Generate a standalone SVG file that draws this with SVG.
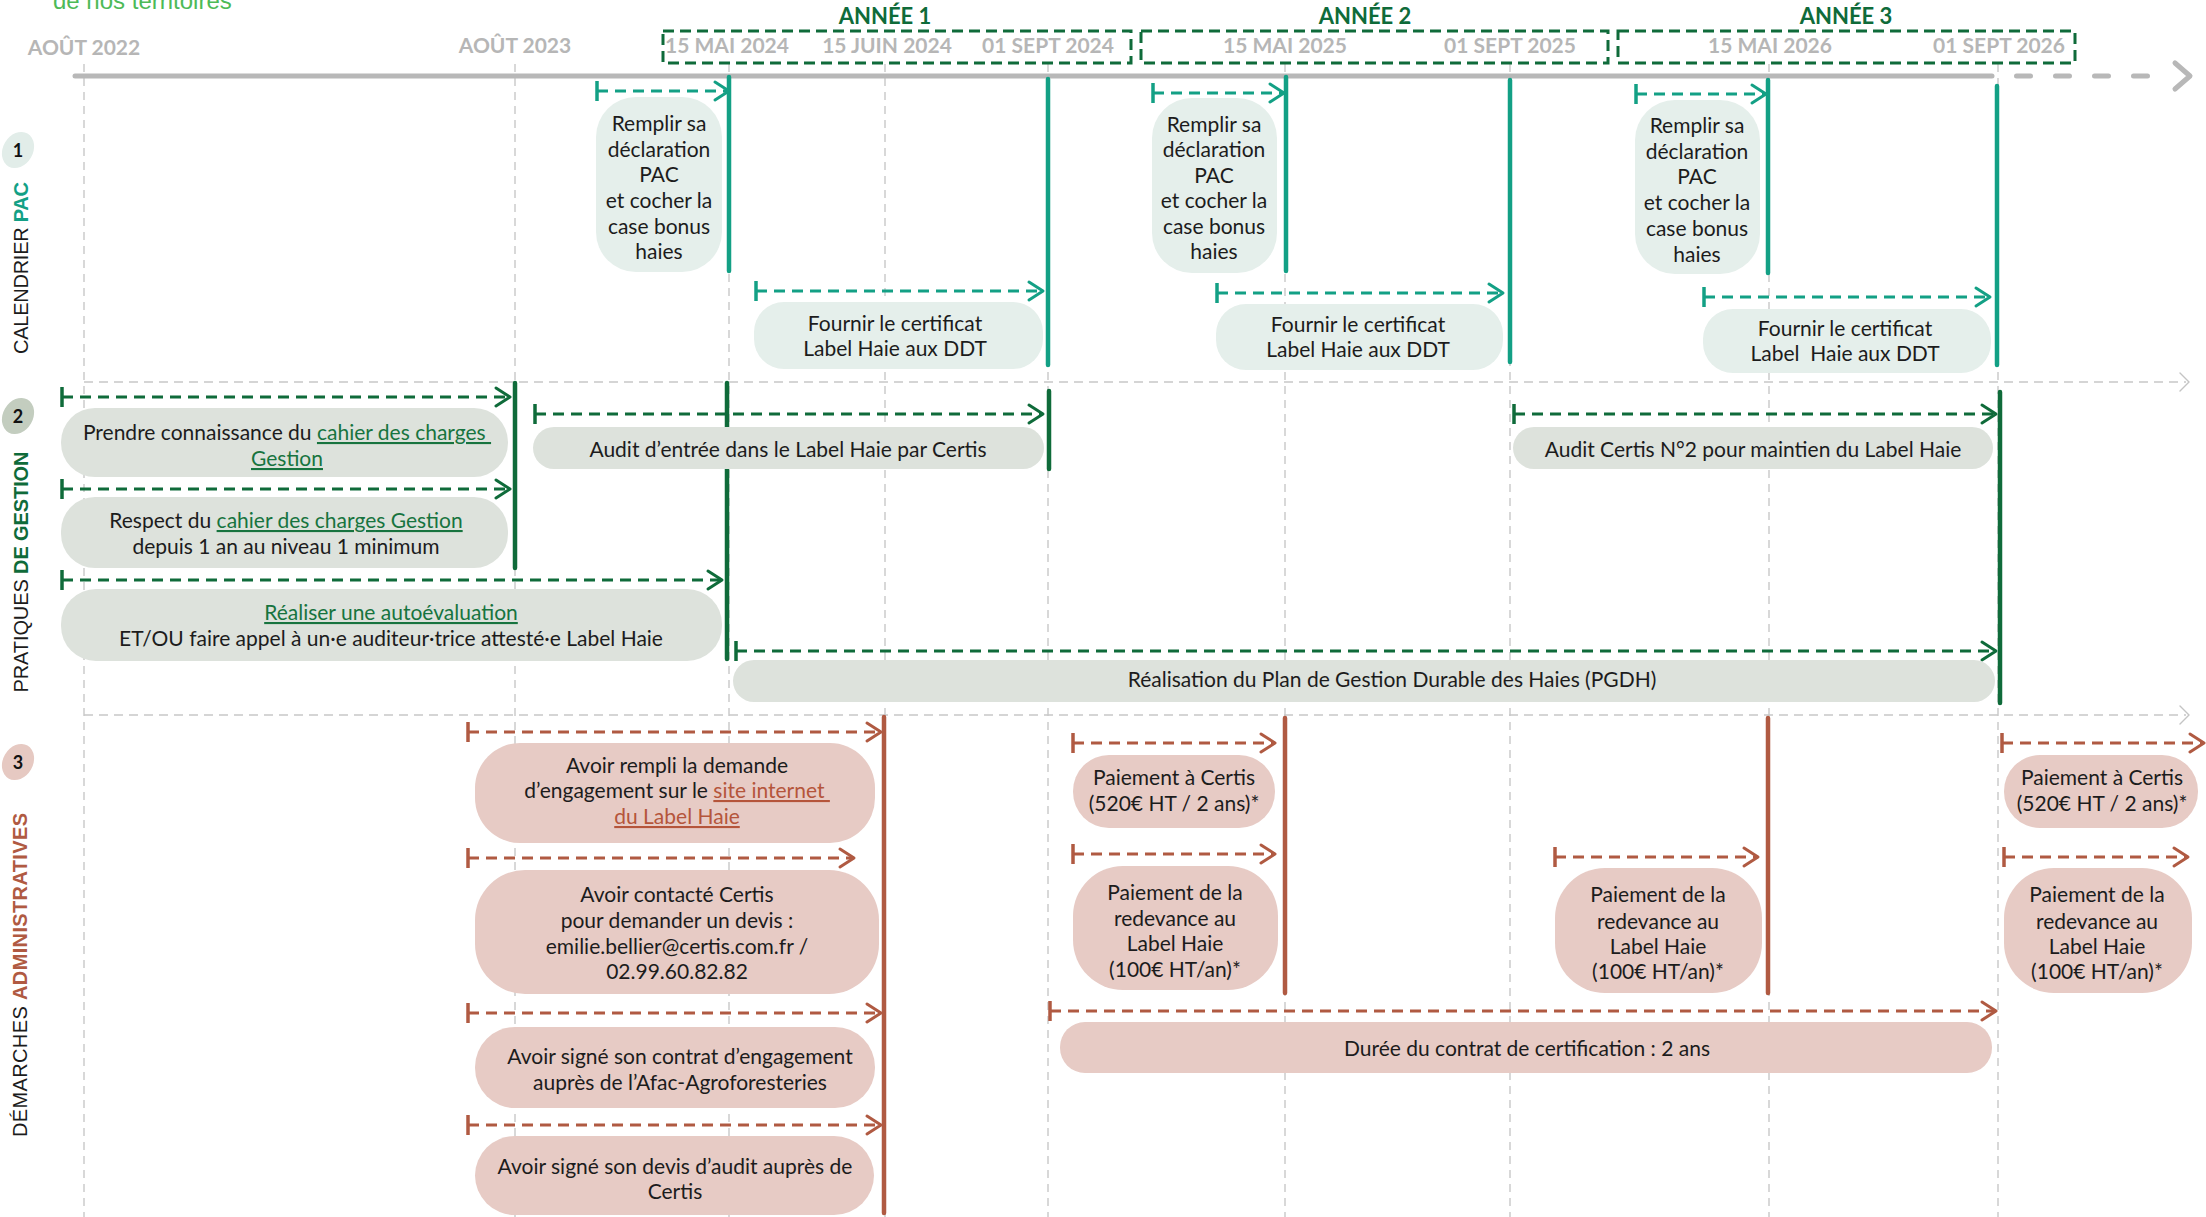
<svg xmlns="http://www.w3.org/2000/svg" width="2206" height="1217" viewBox="0 0 2206 1217">
<style>
.bg{fill:#ffffff}
.grid{fill:none;stroke:#c8c8c8;stroke-width:1.4;stroke-dasharray:8 6}
.div{fill:none;stroke:#c8c8c8;stroke-width:1.4;stroke-dasharray:9 6}
.divh{fill:none;stroke:#c4c4c4;stroke-width:1.4;stroke-linecap:round;stroke-linejoin:round}
.tl{fill:none;stroke:#b8b8b8;stroke-width:5;stroke-linecap:round;stroke-linejoin:round}
.ybox{fill:none;stroke:#0f6b3a;stroke-width:3;stroke-dasharray:11 6}
.date{font-family:Lato,"Liberation Sans",sans-serif;font-weight:700;font-size:21px;fill:#b6b6b6;text-anchor:middle}
.year{font-family:Lato,"Liberation Sans",sans-serif;font-weight:700;font-size:22px;fill:#0f6b3a;text-anchor:middle}
.c{fill:none;stroke-width:3;stroke-dasharray:11 7}
.ct{stroke:#13a085}
.cg{stroke:#0f6b3a}
.cr{stroke:#b05a42}
.ms{fill:none;stroke-width:4.5;stroke-linecap:round}
.n1{fill:#e5efeb}
.n2{fill:#dde2dc}
.n3{fill:#e7cbc5}
.t{font-family:Lato,"Liberation Sans",sans-serif;font-size:21px;fill:#1c1c1c;text-anchor:middle}
.lk2{fill:#17743f;text-decoration:underline}
.lk3{fill:#b5553b;text-decoration:underline}
.vl{font-family:"Liberation Sans",Arial,sans-serif;font-size:20px;fill:#1c1c1c;text-anchor:middle}
.b{font-weight:700}
.badge{font-family:Lato,"Liberation Sans",sans-serif;font-weight:700;font-size:18px;fill:#111;text-anchor:middle}
</style>
<defs>
<marker id="st-t" markerUnits="userSpaceOnUse" orient="auto" overflow="visible" markerWidth="2" markerHeight="2" refX="0" refY="0"><path d="M0,-10V10" stroke="#13a085" stroke-width="3.5" fill="none"/></marker>
<marker id="en-t" markerUnits="userSpaceOnUse" orient="auto" overflow="visible" markerWidth="2" markerHeight="2" refX="0" refY="0"><path d="M-14,-9L0,0L-14,9" stroke="#13a085" stroke-width="3" fill="none" stroke-linecap="round" stroke-linejoin="round"/></marker>
<marker id="st-g" markerUnits="userSpaceOnUse" orient="auto" overflow="visible" markerWidth="2" markerHeight="2" refX="0" refY="0"><path d="M0,-10V10" stroke="#0f6b3a" stroke-width="3.5" fill="none"/></marker>
<marker id="en-g" markerUnits="userSpaceOnUse" orient="auto" overflow="visible" markerWidth="2" markerHeight="2" refX="0" refY="0"><path d="M-14,-9L0,0L-14,9" stroke="#0f6b3a" stroke-width="3" fill="none" stroke-linecap="round" stroke-linejoin="round"/></marker>
<marker id="st-r" markerUnits="userSpaceOnUse" orient="auto" overflow="visible" markerWidth="2" markerHeight="2" refX="0" refY="0"><path d="M0,-10V10" stroke="#b05a42" stroke-width="3.5" fill="none"/></marker>
<marker id="en-r" markerUnits="userSpaceOnUse" orient="auto" overflow="visible" markerWidth="2" markerHeight="2" refX="0" refY="0"><path d="M-14,-9L0,0L-14,9" stroke="#b05a42" stroke-width="3" fill="none" stroke-linecap="round" stroke-linejoin="round"/></marker>
</defs>
<rect class="bg" x="0" y="0" width="2206" height="1217"/>

<text x="53" y="9" font-family="Liberation Sans, Arial, sans-serif" font-size="24" fill="#4dba57">de nos territoires</text>

<g id="grid">
<path class="grid" d="M84,64V1217M515,64V1217M729,64V1217M885,64V1217M1048,64V1217M1285,64V1217M1510,64V1217M1769,64V1217M1998,64V1217"/>
<path class="div" d="M84,382H2186M84,715H2186"/>
<path class="divh" d="M2180,373L2189,382L2180,391M2180,706L2189,715L2180,724"/>
</g>

<g id="timeline">
<path class="tl" d="M75,76H1992"/>
<path class="tl" d="M2016.5,76H2150" stroke-dasharray="14 25"/>
<path class="tl" d="M2175,63L2190,76L2175,89"/>
<text class="date" x="84" y="55">AOÛT 2022</text>
<text class="date" x="515" y="53">AOÛT 2023</text>
</g>

<g id="years">
<rect class="ybox" x="663" y="31" width="468" height="32"/>
<rect class="ybox" x="1141" y="31" width="467" height="32"/>
<rect class="ybox" x="1618" y="31" width="457" height="32"/>
<text class="year" x="885" y="24">ANNÉE 1</text>
<text class="year" x="1365" y="24">ANNÉE 2</text>
<text class="year" x="1846" y="24">ANNÉE 3</text>
<text class="date" x="727" y="53">15 MAI 2024</text>
<text class="date" x="887" y="53">15 JUIN 2024</text>
<text class="date" x="1048" y="53">01 SEPT 2024</text>
<text class="date" x="1285" y="53">15 MAI 2025</text>
<text class="date" x="1510" y="53">01 SEPT 2025</text>
<text class="date" x="1770" y="53">15 MAI 2026</text>
<text class="date" x="1999" y="53">01 SEPT 2026</text>
</g>

<g id="sections">
<ellipse cx="18" cy="150" rx="15" ry="19" fill="#e2ede9" transform="rotate(30 18 150)"/>
<text class="badge" x="18" y="157">1</text>
<ellipse cx="18" cy="416" rx="15" ry="19" fill="#c3cdbf" transform="rotate(30 18 416)"/>
<text class="badge" x="18" y="423">2</text>
<ellipse cx="18" cy="762" rx="15" ry="19" fill="#e6c9c2" transform="rotate(30 18 762)"/>
<text class="badge" x="18" y="769">3</text>
<text class="vl" transform="translate(28,268) rotate(-90)" textLength="172">CALENDRIER <tspan class="b" fill="#13a085">PAC</tspan></text>
<text class="vl" transform="translate(28,572) rotate(-90)" textLength="241">PRATIQUES <tspan class="b" fill="#0f6b3a">DE GESTION</tspan></text>
<text class="vl" transform="translate(27,975) rotate(-90)" textLength="324">DÉMARCHES <tspan class="b" fill="#b05a42">ADMINISTRATIVES</tspan></text>
</g>

<g id="connectors">
<path class="ms" stroke="#13a085" d="M729,77V271M1048,79V365M1286,77V271M1510,80V362M1768,80V273M1997,86V365"/>
<path class="ms" stroke="#0f6b3a" d="M515,383V568M727,383V659M1049,391V469M2000,392V703"/>
<path class="ms" stroke="#b05a42" d="M884,717V1213M1285,718V993M1768,718V993"/>
<path class="c ct" marker-start="url(#st-t)" marker-end="url(#en-t)" d="M597,91H729"/>
<path class="c ct" marker-start="url(#st-t)" marker-end="url(#en-t)" d="M756,291H1043"/>
<path class="c ct" marker-start="url(#st-t)" marker-end="url(#en-t)" d="M1153,93H1284"/>
<path class="c ct" marker-start="url(#st-t)" marker-end="url(#en-t)" d="M1217,293H1503"/>
<path class="c ct" marker-start="url(#st-t)" marker-end="url(#en-t)" d="M1636,94H1766"/>
<path class="c ct" marker-start="url(#st-t)" marker-end="url(#en-t)" d="M1704,297H1990"/>
<path class="c cg" marker-start="url(#st-g)" marker-end="url(#en-g)" d="M62,397H510"/>
<path class="c cg" marker-start="url(#st-g)" marker-end="url(#en-g)" d="M62,489H510"/>
<path class="c cg" marker-start="url(#st-g)" marker-end="url(#en-g)" d="M62,580H722"/>
<path class="c cg" marker-start="url(#st-g)" marker-end="url(#en-g)" d="M535,414H1043"/>
<path class="c cg" marker-start="url(#st-g)" marker-end="url(#en-g)" d="M736,651H1996"/>
<path class="c cg" marker-start="url(#st-g)" marker-end="url(#en-g)" d="M1514,414H1996"/>
<path class="c cr" marker-start="url(#st-r)" marker-end="url(#en-r)" d="M468,732H881"/>
<path class="c cr" marker-start="url(#st-r)" marker-end="url(#en-r)" d="M468,858H854"/>
<path class="c cr" marker-start="url(#st-r)" marker-end="url(#en-r)" d="M468,1013H881"/>
<path class="c cr" marker-start="url(#st-r)" marker-end="url(#en-r)" d="M468,1125H881"/>
<path class="c cr" marker-start="url(#st-r)" marker-end="url(#en-r)" d="M1073,743H1275"/>
<path class="c cr" marker-start="url(#st-r)" marker-end="url(#en-r)" d="M1073,854H1275"/>
<path class="c cr" marker-start="url(#st-r)" marker-end="url(#en-r)" d="M1555,857H1758"/>
<path class="c cr" marker-start="url(#st-r)" marker-end="url(#en-r)" d="M1050,1011H1996"/>
<path class="c cr" marker-start="url(#st-r)" marker-end="url(#en-r)" d="M2002,743H2204"/>
<path class="c cr" marker-start="url(#st-r)" marker-end="url(#en-r)" d="M2004,857H2188"/>
</g>

<g id="n1a"><rect class="n1" x="596" y="97" width="126" height="175" rx="40"/>
<text class="t"><tspan x="659" y="131">Remplir sa</tspan><tspan x="659" y="157">déclaration</tspan><tspan x="659" y="182">PAC</tspan><tspan x="659" y="208">et cocher la</tspan><tspan x="659" y="234">case bonus</tspan><tspan x="659" y="259">haies</tspan></text></g>
<g id="n1b"><rect class="n1" x="754" y="302" width="289" height="67" rx="30"/>
<text class="t"><tspan x="895" y="331">Fournir le certificat</tspan><tspan x="895" y="356">Label Haie aux DDT</tspan></text></g>
<g id="n1c"><rect class="n1" x="1152" y="98" width="125" height="175" rx="40"/>
<text class="t"><tspan x="1214" y="132">Remplir sa</tspan><tspan x="1214" y="157">déclaration</tspan><tspan x="1214" y="183">PAC</tspan><tspan x="1214" y="208">et cocher la</tspan><tspan x="1214" y="234">case bonus</tspan><tspan x="1214" y="259">haies</tspan></text></g>
<g id="n1d"><rect class="n1" x="1216" y="304" width="287" height="66" rx="30"/>
<text class="t"><tspan x="1358" y="332">Fournir le certificat</tspan><tspan x="1358" y="357">Label Haie aux DDT</tspan></text></g>
<g id="n1e"><rect class="n1" x="1635" y="100" width="125" height="174" rx="40"/>
<text class="t"><tspan x="1697" y="133">Remplir sa</tspan><tspan x="1697" y="159">déclaration</tspan><tspan x="1697" y="184">PAC</tspan><tspan x="1697" y="210">et cocher la</tspan><tspan x="1697" y="236">case bonus</tspan><tspan x="1697" y="262">haies</tspan></text></g>
<g id="n1f"><rect class="n1" x="1703" y="309" width="288" height="64" rx="30"/>
<text class="t" xml:space="preserve"><tspan x="1845" y="336">Fournir le certificat</tspan><tspan x="1845" y="361">Label  Haie aux DDT</tspan></text></g>

<g id="n2a"><rect class="n2" x="61" y="408" width="447" height="69" rx="34"/>
<text class="t"><tspan x="287" y="440">Prendre connaissance du <tspan class="lk2">cahier des charges </tspan></tspan><tspan x="287" y="466" class="lk2">Gestion</tspan></text></g>
<g id="n2b"><rect class="n2" x="61" y="497" width="447" height="71" rx="34"/>
<text class="t"><tspan x="286" y="528">Respect du <tspan class="lk2">cahier des charges Gestion</tspan></tspan><tspan x="286" y="554">depuis 1 an au niveau 1 minimum</tspan></text></g>
<g id="n2c"><rect class="n2" x="61" y="589" width="661" height="72" rx="35"/>
<text class="t"><tspan x="391" y="620" class="lk2">Réaliser une autoévaluation</tspan><tspan x="391" y="646">ET/OU faire appel à un·e auditeur·trice attesté·e Label Haie</tspan></text></g>
<g id="n2d"><rect class="n2" x="533" y="427" width="511" height="42" rx="21"/>
<text class="t" x="788" y="457">Audit d’entrée dans le Label Haie par Certis</text></g>
<g id="n2e"><rect class="n2" x="733" y="660" width="1262" height="42" rx="21"/>
<text class="t" x="1392" y="687">Réalisation du Plan de Gestion Durable des Haies (PGDH)</text></g>
<g id="n2f"><rect class="n2" x="1513" y="427" width="480" height="42" rx="21"/>
<text class="t" x="1753" y="457">Audit Certis N°2 pour maintien du Label Haie</text></g>

<g id="n3a"><rect class="n3" x="475" y="743" width="400" height="100" rx="45"/>
<text class="t"><tspan x="677" y="773">Avoir rempli la demande</tspan><tspan x="677" y="798">d’engagement sur le <tspan class="lk3">site internet </tspan></tspan><tspan x="677" y="824" class="lk3">du Label Haie</tspan></text></g>
<g id="n3b"><rect class="n3" x="475" y="870" width="404" height="124" rx="50"/>
<text class="t"><tspan x="677" y="902">Avoir contacté Certis</tspan><tspan x="677" y="928">pour demander un devis :</tspan><tspan x="677" y="954">emilie.bellier@certis.com.fr /</tspan><tspan x="677" y="979">02.99.60.82.82</tspan></text></g>
<g id="n3c"><rect class="n3" x="475" y="1027" width="400" height="81" rx="40"/>
<text class="t"><tspan x="680" y="1064">Avoir signé son contrat d’engagement</tspan><tspan x="680" y="1090">auprès de l’Afac-Agroforesteries</tspan></text></g>
<g id="n3d"><rect class="n3" x="475" y="1136" width="399" height="79" rx="40"/>
<text class="t"><tspan x="675" y="1174">Avoir signé son devis d’audit auprès de</tspan><tspan x="675" y="1199">Certis</tspan></text></g>
<g id="n3e"><rect class="n3" x="1073" y="755" width="202" height="73" rx="36"/>
<text class="t"><tspan x="1174" y="785">Paiement à Certis</tspan><tspan x="1174" y="811">(520€ HT / 2 ans)*</tspan></text></g>
<g id="n3f"><rect class="n3" x="1073" y="866" width="205" height="124" rx="50"/>
<text class="t"><tspan x="1175" y="900">Paiement de la</tspan><tspan x="1175" y="926">redevance au</tspan><tspan x="1175" y="951">Label Haie</tspan><tspan x="1175" y="977">(100€ HT/an)*</tspan></text></g>
<g id="n3g"><rect class="n3" x="1555" y="868" width="207" height="125" rx="50"/>
<text class="t"><tspan x="1658" y="902">Paiement de la</tspan><tspan x="1658" y="929">redevance au</tspan><tspan x="1658" y="954">Label Haie</tspan><tspan x="1658" y="979">(100€ HT/an)*</tspan></text></g>
<g id="n3h"><rect class="n3" x="1060" y="1022" width="932" height="51" rx="25"/>
<text class="t" x="1527" y="1056">Durée du contrat de certification : 2 ans</text></g>
<g id="n3i"><rect class="n3" x="2004" y="755" width="194" height="73" rx="36"/>
<text class="t"><tspan x="2102" y="785">Paiement à Certis</tspan><tspan x="2102" y="811">(520€ HT / 2 ans)*</tspan></text></g>
<g id="n3j"><rect class="n3" x="2004" y="868" width="188" height="125" rx="50"/>
<text class="t"><tspan x="2097" y="902">Paiement de la</tspan><tspan x="2097" y="929">redevance au</tspan><tspan x="2097" y="954">Label Haie</tspan><tspan x="2097" y="979">(100€ HT/an)*</tspan></text></g>
</svg>
